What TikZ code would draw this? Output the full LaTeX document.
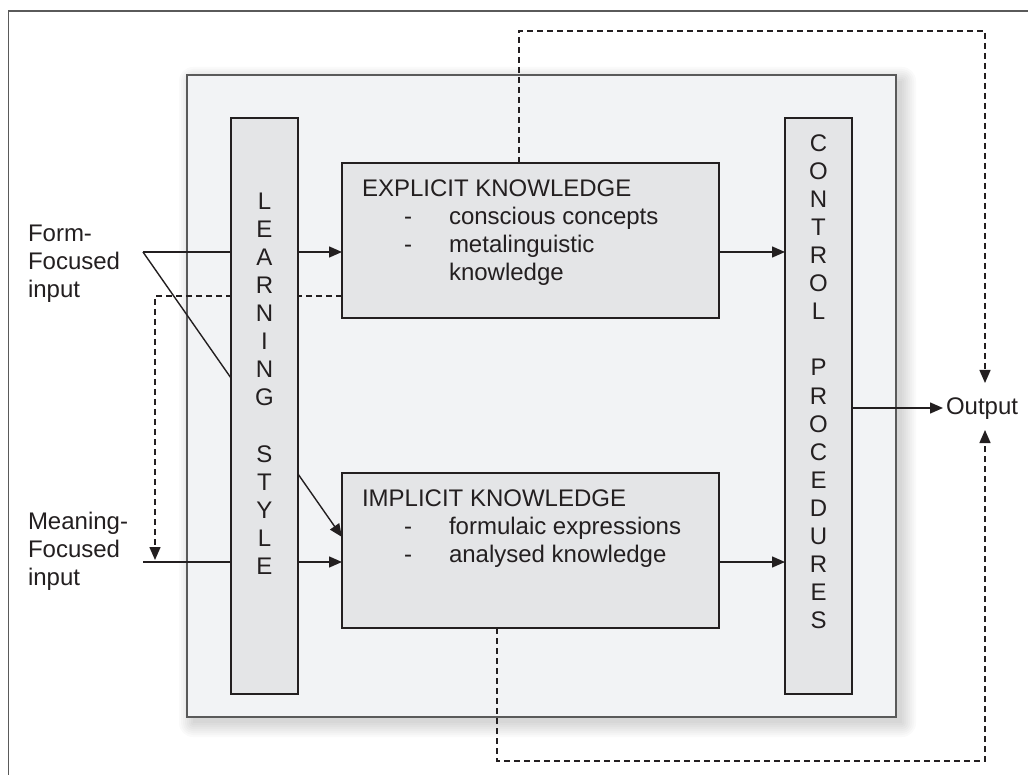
\documentclass[tikz,border=0pt]{standalone}
\usepackage{fontspec}
\setmainfont{Liberation Sans}
\usetikzlibrary{arrows.meta}
\definecolor{framegray}{HTML}{5A5A5A}
\definecolor{panelfill}{HTML}{F2F3F5}
\definecolor{boxfill}{HTML}{E4E5E7}
\definecolor{ink}{HTML}{231F20}
\begin{document}
\begin{tikzpicture}[x=1pt,y=-1pt,
  txt/.style={font=\fontsize{24}{28}\selectfont, text=ink, inner sep=0pt, outer sep=0pt},
  panel/.style={draw=framegray, line width=1.4pt, fill=panelfill, inner sep=0pt, outer sep=0pt, anchor=north west},
  kbox/.style={draw=ink, line width=1.8pt, fill=boxfill, inner sep=0pt, outer sep=0pt, anchor=north west},
  conn/.style={draw=ink, line width=1.4pt},
  arr/.style={conn, -{Triangle[length=13pt,width=11pt]}},
  dashconn/.style={conn, dash pattern=on 6pt off 4pt},
  dasharr/.style={dashconn, -{Triangle[length=13pt,width=11pt]}}
]
\useasboundingbox (0,0) rectangle (1028,775);
\fill[white] (0,0) rectangle (1028,775);

% frame
\draw[framegray, line width=1.4pt] (8.5,775) -- (8.5,11) -- (1028,11);

% soft shadow under the main panel
\foreach \r in {0,2,...,14}
  \fill[black, opacity=0.018, rounded corners=\r pt]
    (187+6-\r,75+6-\r) rectangle (896+6+\r,717+6+\r);

% main panel
\node[panel, minimum width=709pt, minimum height=642pt] (panel) at (187,75) {};

% named points for connectors
\coordinate (ffs) at (143,252);
\coordinate (mfs) at (143,562);
\coordinate (diagEnd) at (342,537);
\coordinate (dashA) at (342,296);
\coordinate (dashB) at (155,296);
\coordinate (dashC) at (155,560);
\coordinate (topA) at (519,163);
\coordinate (topB) at (519,31);
\coordinate (topC) at (985,31);
\coordinate (topD) at (985,383);
\coordinate (botA) at (497,628);
\coordinate (botB) at (497,761);
\coordinate (botC) at (985,761);
\coordinate (botD) at (985,430);
\coordinate (outIn) at (943,408);

% boxes (positions only, drawn after the connectors)
\path (342,163) node[kbox, draw=none, fill=none, minimum width=377pt, minimum height=155pt] (expl) {};
\path (342,473) node[kbox, draw=none, fill=none, minimum width=377pt, minimum height=155pt] (impl) {};
\path (231,118) node[kbox, draw=none, fill=none, minimum width=67pt, minimum height=576pt] (ls) {};
\path (785,118) node[kbox, draw=none, fill=none, minimum width=67pt, minimum height=576pt] (cp) {};

% connectors running behind the bars
\draw[arr] (ffs) -- (expl.west |- ffs);
\draw[arr] (ffs) -- (diagEnd);
\draw[arr] (mfs) -- (impl.west |- mfs);
\draw[dasharr] (dashA) -- (dashB) -- (dashC);
\draw[arr] (expl.east |- ffs) -- (cp.west |- ffs);
\draw[arr] (impl.east |- mfs) -- (cp.west |- mfs);
\draw[arr] (cp.east |- outIn) -- (outIn);
\draw[dasharr] (topA) -- (topB) -- (topC) -- (topD);
\draw[dasharr] (botA) -- (botB) -- (botC) -- (botD);

% bars and knowledge boxes
\node[kbox, minimum width=67pt, minimum height=576pt] (lsbar) at (231,118) {};
\node[kbox, minimum width=67pt, minimum height=576pt] (cpbar) at (785,118) {};
\node[kbox, minimum width=377pt, minimum height=155pt] (explbox) at (342,163) {};
\node[kbox, minimum width=377pt, minimum height=155pt] (implbox) at (342,473) {};

% vertical labels
\foreach \ch/\k in {L/0,E/1,A/2,R/3,N/4,I/5,N/6,G/7,S/9,T/10,Y/11,L/12,E/13}
  \node[txt, anchor=base] (ls-\k) at (264.5,210+28*\k) {\ch};
\foreach \ch/\k in {C/0,O/1,N/2,T/3,R/4,O/5,L/6,P/8,R/9,O/10,C/11,E/12,D/13,U/14,R/15,E/16,S/17}
  \node[txt, anchor=base] (cp-\k) at (818.5,152+28*\k) {\ch};

% explicit knowledge text
\node[txt, anchor=base west] (explT) at (362,197) {EXPLICIT KNOWLEDGE};
\node[txt, anchor=base] (explD1) at (408,225) {-};
\node[txt, anchor=base west] (explI1) at (449,225) {conscious concepts};
\node[txt, anchor=base] (explD2) at (408,253) {-};
\node[txt, anchor=base west] (explI2) at (449,253) {metalinguistic};
\node[txt, anchor=base west] (explI3) at (449,281) {knowledge};

% implicit knowledge text
\node[txt, anchor=base west] (implT) at (362,506) {IMPLICIT KNOWLEDGE};
\node[txt, anchor=base] (implD1) at (408,534) {-};
\node[txt, anchor=base west] (implI1) at (449,534) {formulaic expressions};
\node[txt, anchor=base] (implD2) at (408,562) {-};
\node[txt, anchor=base west] (implI2) at (449,562) {analysed knowledge};

% inputs and output
\node[txt, anchor=base west] (ff1) at (28,242) {Form-};
\node[txt, anchor=base west] (ff2) at (28,270) {Focused};
\node[txt, anchor=base west] (ff3) at (28,298) {input};
\node[txt, anchor=base west] (mf1) at (28,529) {Meaning-};
\node[txt, anchor=base west] (mf2) at (28,557) {Focused};
\node[txt, anchor=base west] (mf3) at (28,585) {input};
\node[txt, anchor=base west] (out) at (946,414) {Output};
\end{tikzpicture}
\end{document}
